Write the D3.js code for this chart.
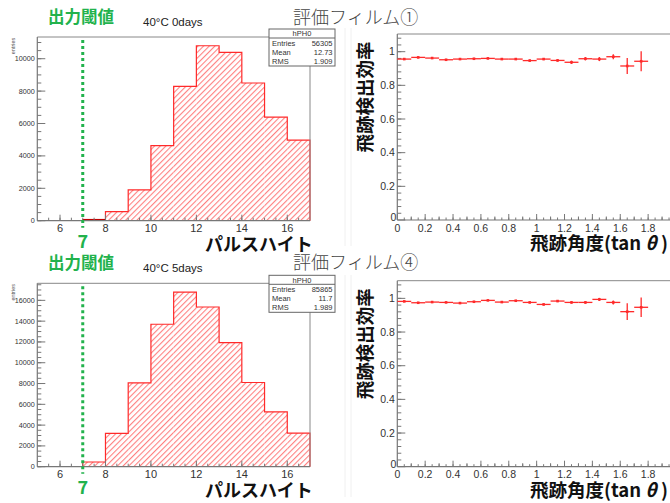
<!DOCTYPE html>
<html><head><meta charset="utf-8">
<script src="https://cdn.jsdelivr.net/npm/d3@7"></script>
<style>
html,body{margin:0;padding:0;background:#fff;}
svg{display:block;}
</style></head>
<body>
<script>
// ---------- DATA ----------
const binEdges = [7, 8, 9, 10, 11, 12, 13, 14, 15, 16, 17];
const counts0days = [60, 557, 1900, 4640, 8290, 10800, 10390, 8500, 6390, 4970];
const counts5days = [450, 3200, 8060, 13700, 16800, 15360, 11940, 8100, 5280, 3230];
const histTitles = ["40°C 0days", "40°C 5days"];
const statsEntries = ["56305", "85865"];
const statsMean = ["12.73", "11.7"];
const statsRMS = ["1.909", "1.989"];
const histXTicks = [6, 8, 10, 12, 14, 16];
const histYTicks0 = [0, 2000, 4000, 6000, 8000, 10000];
const histYTicks5 = [0, 2000, 4000, 6000, 8000, 10000, 12000, 14000, 16000];
const threshold = 7;

const angleCenters = [0.05,0.15,0.25,0.35,0.45,0.55,0.65,0.75,0.85,0.95,1.05,1.15,1.25,1.35,1.45,1.55,1.65,1.75];
const effFilm1 = [0.956,0.966,0.962,0.952,0.956,0.958,0.960,0.956,0.956,0.947,0.956,0.948,0.937,0.958,0.956,0.970,0.915,0.943];
const errFilm1 = [0.006,0.005,0.005,0.005,0.005,0.005,0.005,0.005,0.005,0.006,0.006,0.007,0.010,0.010,0.012,0.015,0.048,0.060];
const effFilm4 = [0.982,0.974,0.978,0.976,0.972,0.980,0.988,0.978,0.986,0.976,0.964,0.984,0.976,0.976,0.994,0.976,0.921,0.947];
const errFilm4 = [0.004,0.004,0.004,0.004,0.004,0.004,0.004,0.004,0.004,0.005,0.006,0.006,0.007,0.008,0.009,0.012,0.050,0.058];
const effXTicks = [0, 0.2, 0.4, 0.6, 0.8, 1, 1.2, 1.4, 1.6, 1.8];
const effYTicks = [0, 0.2, 0.4, 0.6, 0.8, 1];
const filmTitles = ["評価フィルム①", "評価フィルム④"];

// ---------- DRAW ----------
const W = 670, H = 503;
const svg = d3.select("body").append("svg").attr("width", W).attr("height", H);
const LAT = "'Liberation Sans', Arial, sans-serif";
const JP = "'Noto Sans CJK JP', 'Noto Sans', sans-serif";
const GREEN = "#22b24c";
const RED = "#ff2a2a";

const defs = svg.append("defs");
const pat = defs.append("pattern").attr("id", "hatchRed").attr("patternUnits", "userSpaceOnUse")
  .attr("width", 4).attr("height", 4).attr("patternTransform", "rotate(45)");
pat.append("rect").attr("x", 0).attr("y", 0).attr("width", 4).attr("height", 4).attr("fill", "#ffffff");
pat.append("rect").attr("x", 0).attr("y", 0).attr("width", 1.1).attr("height", 4).attr("fill", "#ff8080");

// faint picture edges
svg.append("line").attr("x1", 345).attr("x2", 345).attr("y1", 28).attr("y2", 246).attr("stroke", "#f0f0f0");
svg.append("line").attr("x1", 351).attr("x2", 351).attr("y1", 28).attr("y2", 246).attr("stroke", "#f0f0f0");
svg.append("line").attr("x1", 345).attr("x2", 345).attr("y1", 275).attr("y2", 497).attr("stroke", "#f0f0f0");
svg.append("line").attr("x1", 351).attr("x2", 351).attr("y1", 275).attr("y2", 497).attr("stroke", "#f0f0f0");

function inwardTicks(g, scale, values, orient, len, color) {
  values.forEach(v => {
    const p = scale(v);
    if (orient === "bottom") {
      const y0 = scale.yPos;
      g.append("line").attr("x1", p).attr("x2", p).attr("y1", y0).attr("y2", y0 - len).attr("stroke", color);
    } else {
      const x0 = scale.xPos;
      g.append("line").attr("x1", x0).attr("x2", x0 + len).attr("y1", p).attr("y2", p).attr("stroke", color);
    }
  });
}

function histPanel(idx, counts, yMax, yTicks, top, bottom) {
  const left = 37.3, right = 310;
  const x = d3.scaleLinear().domain([5, 17]).range([left, right]);
  const y = d3.scaleLinear().domain([0, yMax]).range([bottom, top]);
  const g = svg.append("g");
  // bars
  const bins = counts.map((c, i) => ({ x0: binEdges[i], x1: binEdges[i + 1], c }));
  g.selectAll("rect.bar").data(bins).join("rect").attr("class", "bar")
    .attr("x", d => x(d.x0)).attr("width", d => x(d.x1) - x(d.x0))
    .attr("y", d => y(d.c)).attr("height", d => y(0) - y(d.c))
    .attr("fill", "url(#hatchRed)");
  // outline
  const line = d3.line().curve(d3.curveStepAfter).x(d => x(d[0])).y(d => y(d[1]));
  const pts = [[binEdges[0], 0]].concat(bins.map(d => [d.x0, d.c])).concat([[17, counts[counts.length - 1]]]);
  g.append("path").attr("d", line(pts) + "L" + x(17) + "," + y(0)).attr("fill", "none")
    .attr("stroke", RED).attr("stroke-width", 1.2);
  if (counts[0] < yMax * 0.01) {
    g.append("line").attr("x1", x(binEdges[0])).attr("x2", x(binEdges[1])).attr("y1", y(counts[0])).attr("y2", y(counts[0]))
      .attr("stroke", "#c00000").attr("stroke-width", 1.6);
  }
  // frame
  g.append("line").attr("x1", left).attr("x2", right).attr("y1", top).attr("y2", top).attr("stroke", "#888");
  g.append("line").attr("x1", right).attr("x2", right).attr("y1", top).attr("y2", bottom).attr("stroke", "#888");
  g.append("line").attr("x1", left).attr("x2", right).attr("y1", bottom).attr("y2", bottom).attr("stroke", "#777").attr("stroke-width", 1.2);
  g.append("line").attr("x1", left).attr("x2", left).attr("y1", top).attr("y2", bottom).attr("stroke", "#777").attr("stroke-width", 1.2);
  // ticks
  x.yPos = bottom; y.xPos = left;
  inwardTicks(g, x, d3.range(5.5, 17, 0.5), "bottom", 3, "#777");
  inwardTicks(g, x, histXTicks, "bottom", 6, "#777");
  inwardTicks(g, y, d3.range(0, yMax, 500), "left", 4, "#777");
  inwardTicks(g, y, yTicks, "left", 8, "#777");
  g.selectAll("text.xt").data(histXTicks).join("text").attr("class", "xt")
    .attr("x", d => x(d)).attr("y", bottom + 11.5).attr("text-anchor", "middle")
    .attr("font-family", LAT).attr("font-size", 11).attr("fill", "#333").text(d => d);
  g.selectAll("text.yt").data(yTicks).join("text").attr("class", "yt")
    .attr("x", left - 2.5).attr("y", d => y(d) + 2.5).attr("text-anchor", "end")
    .attr("font-family", LAT).attr("font-size", 7.2).attr("fill", "#333").text(d => d);
  g.append("text").attr("transform", `translate(15,${top + 9}) rotate(-90)`)
    .attr("text-anchor", "middle").attr("font-family", LAT).attr("font-size", 5.5).attr("fill", "#555").text("entries");
  // threshold
  g.append("line").attr("x1", x(threshold)).attr("x2", x(threshold)).attr("y1", top + 3).attr("y2", bottom + 7)
    .attr("stroke", GREEN).attr("stroke-width", 3).attr("stroke-dasharray", "3,3");
  g.append("text").attr("x", x(threshold)).attr("y", bottom + 27).attr("text-anchor", "middle")
    .attr("font-family", JP).attr("font-weight", 700).attr("font-size", 18).attr("fill", GREEN).text(threshold);
  // titles
  g.append("text").attr("x", 48).attr("y", top - 14).attr("font-family", JP).attr("font-weight", 700)
    .attr("font-size", 16.5).attr("fill", GREEN).text("出力閾値");
  g.append("text").attr("x", 143).attr("y", top - 11).attr("font-family", LAT)
    .attr("font-size", 11.5).attr("fill", "#222").text(histTitles[idx]);
  g.append("text").attr("x", 205).attr("y", bottom + 30).attr("font-family", JP).attr("font-weight", 700)
    .attr("font-size", 18).attr("fill", "#111").text("パルスハイト");
  // stats box
  const bx = 269, by = top - 8, bw = 66, bh = 37;
  const sb = g.append("g");
  sb.append("rect").attr("x", bx).attr("y", by).attr("width", bw).attr("height", bh)
    .attr("fill", "#fff").attr("stroke", "#666").attr("stroke-width", 1);
  sb.append("line").attr("x1", bx).attr("x2", bx + bw).attr("y1", by + 9).attr("y2", by + 9).attr("stroke", "#666");
  sb.append("text").attr("x", bx + bw / 2).attr("y", by + 7.3).attr("text-anchor", "middle")
    .attr("font-family", LAT).attr("font-size", 7.5).attr("fill", "#333").text("hPH0");
  const rows = [["Entries", statsEntries[idx]], ["Mean", statsMean[idx]], ["RMS", statsRMS[idx]]];
  rows.forEach((r, i) => {
    sb.append("text").attr("x", bx + 3).attr("y", by + 17 + i * 9).attr("font-family", LAT)
      .attr("font-size", 7.5).attr("fill", "#333").text(r[0]);
    sb.append("text").attr("x", bx + bw - 2.5).attr("y", by + 17 + i * 9).attr("text-anchor", "end")
      .attr("font-family", LAT).attr("font-size", 7.5).attr("fill", "#333").text(r[1]);
  });
}

function effPanel(idx, eff, err, top, bottom, titleY) {
  const left = 397.3, right = 676;
  const x = d3.scaleLinear().domain([0, 2]).range([left, right]);
  const y = d3.scaleLinear().domain([0, 1.105]).range([bottom, top]);
  const g = svg.append("g");
  g.append("line").attr("x1", left).attr("x2", right).attr("y1", top).attr("y2", top).attr("stroke", "#888");
  g.append("line").attr("x1", left).attr("x2", right).attr("y1", bottom).attr("y2", bottom).attr("stroke", "#777").attr("stroke-width", 1.2);
  g.append("line").attr("x1", left).attr("x2", left).attr("y1", top).attr("y2", bottom).attr("stroke", "#777").attr("stroke-width", 1.2);
  x.yPos = bottom; y.xPos = left;
  inwardTicks(g, x, d3.range(0.05, 2, 0.05), "bottom", 2.5, "#777");
  inwardTicks(g, x, d3.range(0.1, 2, 0.2), "bottom", 3.5, "#777");
  inwardTicks(g, x, effXTicks, "bottom", 6, "#777");
  inwardTicks(g, y, d3.range(0.04, 1.1, 0.04), "left", 4, "#777");
  inwardTicks(g, y, effYTicks, "left", 8, "#777");
  g.selectAll("text.xt").data(effXTicks).join("text").attr("class", "xt")
    .attr("x", d => x(d)).attr("y", bottom + 11.5).attr("text-anchor", "middle")
    .attr("font-family", LAT).attr("font-size", 10.5).attr("fill", "#333").text(d => d);
  g.selectAll("text.yt").data(effYTicks).join("text").attr("class", "yt")
    .attr("x", d => d === 0 ? left - 1 : left - 2.5).attr("y", d => (d === 0 ? y(d) + 1 : y(d) + 3.5)).attr("text-anchor", "end")
    .attr("font-family", LAT).attr("font-size", 10.5).attr("fill", "#333").text(d => d);
  // error bars
  const w = 0.05;
  const pg = g.append("g").attr("stroke", RED).attr("stroke-width", 1.3);
  angleCenters.forEach((c, i) => {
    pg.append("line").attr("x1", x(c - w)).attr("x2", x(c + w)).attr("y1", y(eff[i])).attr("y2", y(eff[i]));
    pg.append("line").attr("x1", x(c)).attr("x2", x(c)).attr("y1", y(eff[i] - err[i])).attr("y2", y(eff[i] + err[i]));
    g.append("rect").attr("x", x(c) - 1.3).attr("y", y(eff[i]) - 1.3).attr("width", 2.6).attr("height", 2.6).attr("fill", RED);
  });
  // labels
  g.append("text").attr("transform", `translate(372,${(top + bottom) / 2 - 30}) rotate(-90)`)
    .attr("text-anchor", "middle").attr("font-family", JP).attr("font-weight", 700)
    .attr("font-size", 18.5).attr("fill", "#111").text("飛跡検出効率");
  const xl = g.append("text").attr("x", 530).attr("y", bottom + 30).attr("font-family", JP).attr("font-weight", 700)
    .attr("font-size", 18.5).attr("fill", "#111");
  xl.append("tspan").text("飛跡角度(tan ");
  xl.append("tspan").attr("font-style", "italic").text("θ");
  xl.append("tspan").text(" )");
  g.append("text").attr("x", 293).attr("y", titleY).attr("font-family", JP).attr("font-weight", 300)
    .attr("font-size", 18).attr("fill", "#444").text(filmTitles[idx]);
}

histPanel(0, counts0days, 11340, histYTicks0, 37, 220.7);
histPanel(1, counts5days, 17640, histYTicks5, 283.3, 466.7);
effPanel(0, effFilm1, errFilm1, 34, 220, 24);
effPanel(1, effFilm4, errFilm4, 280.7, 466.7, 269);
</script>
</body></html>
